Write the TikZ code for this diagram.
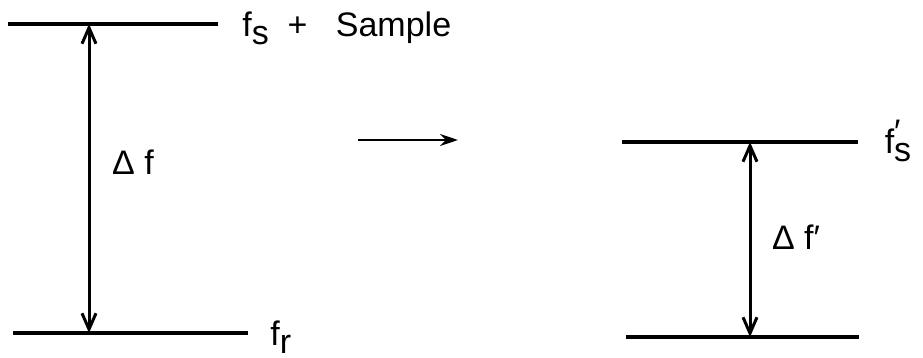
\documentclass[tikz,border=0pt]{standalone}
\usepackage{fontspec}
\setmainfont{Liberation Sans}
\usetikzlibrary{arrows.meta,positioning}
\definecolor{InkBlack}{HTML}{000000}
\definecolor{White}{HTML}{FFFFFF}
\newcommand{\subs}[1]{\raisebox{-0.45ex}{#1}}

\begin{document}
\begin{tikzpicture}[x=0.5pt,y=-0.5pt,
  level/.style={draw=InkBlack,line width=1.6pt},
  gap/.style={draw=InkBlack,line width=1.5pt,
    {Straight Barb[length=8pt,width=7pt]}-{Straight Barb[length=8pt,width=7pt]}},
  lbl/.style={font=\fontsize{17}{20}\selectfont,text=InkBlack,inner sep=0pt}]
  \fill[White] (0,0) rectangle (923,358);
  \useasboundingbox (0,0) rectangle (923,358);

  % left: sample and reference levels
  \coordinate (sL) at (8,24);
  \coordinate (sR) at (218,24);
  \coordinate (rL) at (13,333);
  \coordinate (rR) at (248,333);
  \draw[level] (sL) -- (sR);
  \draw[level] (rL) -- (rR);
  \node[lbl,anchor=west] (fsSample) at (242,28) {f\subs{s}\ \ +\ \ \ Sample};
  \node[lbl,anchor=west] (fr) at (270,337) {f\subs{r}};

  \coordinate (dfTop) at (89,24);
  \coordinate (dfBot) at (89,333);
  \draw[gap] (dfTop) -- (dfBot);
  \node[lbl] (df) at (133,162) {Δ f};

  % shift
  \coordinate (goFrom) at (358,140);
  \coordinate (goTo) at (458,140);
  \draw[draw=InkBlack,line width=1.4pt,-{Stealth[length=9pt,width=6pt]}] (goFrom) -- (goTo);

  % right: shifted level
  \coordinate (s2L) at (622,142);
  \coordinate (s2R) at (858,142);
  \coordinate (r2L) at (626,337);
  \coordinate (r2R) at (859,337);
  \draw[level] (s2L) -- (s2R);
  \draw[level] (r2L) -- (r2R);
  \node[lbl] (fs2) at (898,141) {f\rlap{\raisebox{0.55ex}{′}}\subs{s}};

  \coordinate (df2Top) at (750,142);
  \coordinate (df2Bot) at (750,337);
  \draw[gap] (df2Top) -- (df2Bot);
  \node[lbl] (df2) at (796,237) {Δ f′};
\end{tikzpicture}
\end{document}
